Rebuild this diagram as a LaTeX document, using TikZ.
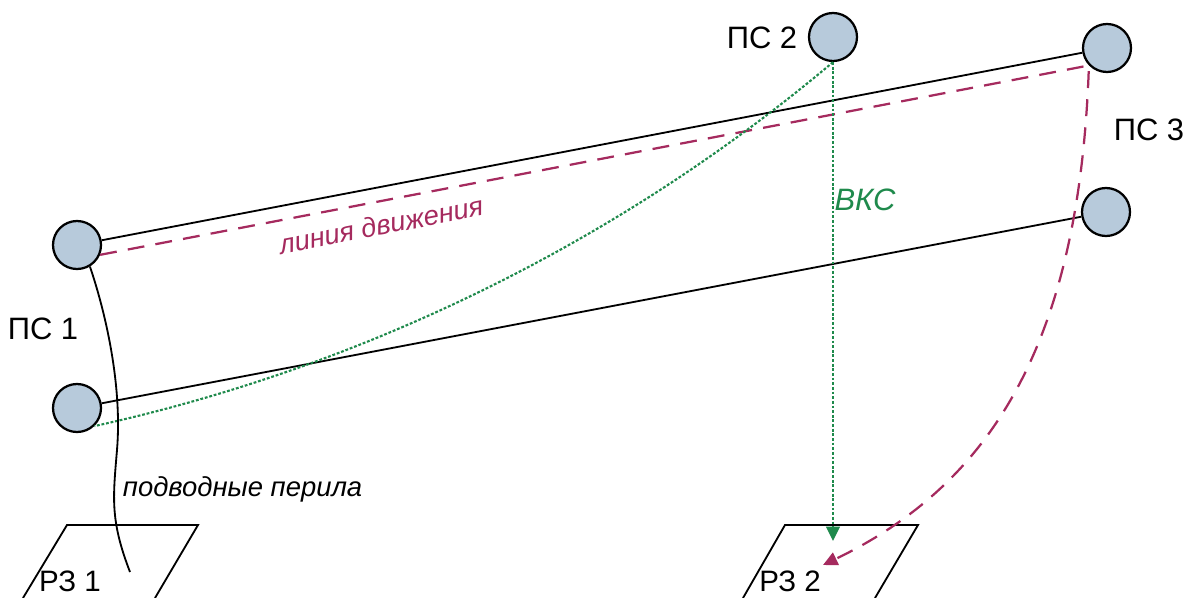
\documentclass[tikz,border=0pt]{standalone}
\usepackage{fontspec}
\setmainfont{Liberation Sans}
\usetikzlibrary{arrows.meta}
\definecolor{stfill}{HTML}{B7CADB}
\definecolor{routec}{HTML}{A52A5E}
\definecolor{commc}{HTML}{1F8A4C}

\begin{document}
\begin{tikzpicture}[
  x=0.025cm, y=-0.025cm,
  station/.style={circle, draw, line width=1.6pt, fill=stfill, minimum size=1.2cm, inner sep=0pt},
  link/.style={line width=1.3pt},
  route/.style={routec, line width=1.6pt, dash pattern=on 12pt off 8pt},
  comm/.style={commc, line width=1.5pt, dash pattern=on 2pt off 1.3pt},
  tip/.style={-{Triangle[length=0.36cm, width=0.34cm]}},
  lbl/.style={font=\fontsize{22}{26}\selectfont},
  ital/.style={font=\fontsize{19.5}{24}\selectfont\itshape}
]
\useasboundingbox (0,0) rectangle (1184,598);

% Stations
\node[station] (p1a) at (77,245) {};
\node[station] (p1b) at (77,408) {};
\node[station] (p2) at (833,37) {};
\node[station] (p3a) at (1107,48) {};
\node[station] (p3b) at (1106,212) {};
\node[lbl] (l-p1) at (43,329) {ПС 1};
\node[lbl] (l-p2) at (762,38) {ПС 2};
\node[lbl] (l-p3) at (1149,130) {ПС 3};

% Work zones
\coordinate (rz1) at (67,525);
\coordinate (rz2) at (785,525);
\coordinate (rz2-in) at (833,541);
\coordinate (rz2-pt) at (823,565);
\draw[link] (23,598) -- (rz1) -- (198,525) -- (155,598);
\draw[link] (743,598) -- (rz2) -- (918,525) -- (875,598);
\node[lbl, font=\fontsize{21}{25}\selectfont] (l-rz1) at (70,581) {РЗ 1};
\node[lbl, font=\fontsize{21}{25}\selectfont] (l-rz2) at (790,581) {РЗ 2};

% Lines between stations
\draw[link] (p1a) -- (p3a);
\draw[link] (p1b) -- (p3b);

% Route
\draw[route, tip] (p1a.-23) -- (p3a.224) .. controls (1080,330) and (1000,480) .. (rz2-pt);
\node[ital, text=routec, rotate=10.8] (l-route) at (381,225) {линия движения};

% Communication
\draw[comm, tip] (p2.south) -- (rz2-in);
\draw[comm] (p2.south) .. controls (610,250) and (350,370) .. (p1b.-46);
\node[ital, text=commc, font=\fontsize{22}{26}\selectfont\itshape] (l-comm) at (865,200) {ВКС};

% Underwater rope
\coordinate (rope-mid) at (117,450);
\coordinate (rope-end) at (130,572);
\draw[link] (p1a.-59) .. controls (108,320) and (122,390) .. (rope-mid)
  .. controls (113,498) and (110,520) .. (rope-end);
\node[ital, anchor=west] (l-rope) at (118,489) {подводные перила};
\end{tikzpicture}
\end{document}
